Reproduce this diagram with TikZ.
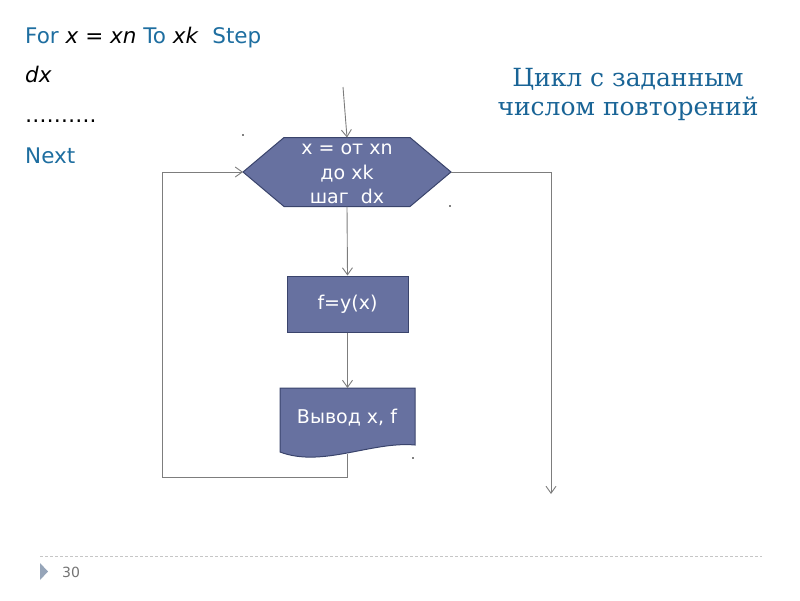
\documentclass[tikz,border=0pt]{standalone}
\usepackage{fontspec}
\setmainfont{DejaVu Sans}
\newfontfamily\titlefont{DejaVu Serif}
\usetikzlibrary{arrows.meta}
\definecolor{blk}{RGB}{103,113,160}
\definecolor{blkedge}{RGB}{58,68,108}
\definecolor{kwblue}{RGB}{30,110,160}
\definecolor{ttlblue}{RGB}{25,100,150}
\definecolor{lineg}{RGB}{125,125,125}
\definecolor{footg}{RGB}{150,165,185}
\begin{document}
\begin{tikzpicture}[x=1pt,y=-1pt,
  conn/.style={draw=lineg,line width=0.9pt},
  arr/.style={conn,-{Straight Barb[length=7pt,width=10pt]}},
  shapebox/.style={fill=blk,draw=blkedge,line width=1pt},
  frame/.style={inner sep=0pt,outer sep=0pt},
  intext/.style={inner sep=0pt,text=white,font=\fontsize{19}{24.5}\selectfont,align=center},
  lefttext/.style={anchor=base west,inner sep=0pt,font=\fontsize{21.5}{24}\selectfont},
  ttl/.style={anchor=base,inner sep=0pt,text=ttlblue,font=\titlefont\fontsize{25}{30}\selectfont},
  speck/.style={fill=black}]
\useasboundingbox (0,0) rectangle (800,600);

% left code text
\node[lefttext] (l1) at (25,43) {\textcolor{kwblue}{For} \textit{x} = \textit{xn} \textcolor{kwblue}{To} \textit{xk}\ \ \textcolor{kwblue}{Step}};
\node[lefttext] (l2) at (25,82) {\textit{dx}};
\node[lefttext] (l3) at (25,122) {……….};
\node[lefttext,text=kwblue] (l4) at (25,163) {Next};

% title
\node[ttl] (t1) at (628,86) {Цикл с заданным};
\node[ttl] (t2) at (628,115) {числом повторений};

% hexagon
\node[frame,minimum width=208pt,minimum height=69pt] (hex) at (347,172) {};
\path[shapebox] (hex.west) -- ([xshift=-63pt]hex.north) -- ([xshift=63pt]hex.north)
  -- (hex.east) -- ([xshift=63pt]hex.south) -- ([xshift=-63pt]hex.south) -- cycle;
\node[intext] (hextext) at (347,174) {x = от xn\\до xk\\шаг\ \ dx};

% process box
\node[shapebox,minimum width=121pt,minimum height=56pt,inner sep=0pt,text=white,
  font=\fontsize{19}{22}\selectfont] (proc) at (347.5,304) {f=y(x)};

% document shape
\node[frame,minimum width=135pt,minimum height=64pt] (doc) at (347.5,420) {};
\path[shapebox] (doc.north west) -- (doc.north east) -- ([yshift=7pt]doc.south east)
  .. controls (372,441) and (322,468) .. (doc.south west) -- cycle;
\node[intext] (doctext) at (347,418) {Вывод x, f};
\coordinate (docb) at (347,454);

% connectors
\coordinate (inc) at (343,87);
\coordinate (loopc) at (162,477);
\coordinate (exitend) at (551,494);
\draw[arr] (inc) -- (hex.north);
\draw[arr] (hex.south) -- (proc.north);
\draw[arr] (proc.south) -- (doc.north);
\draw[arr] (docb) |- (loopc) |- (hex.west);
\draw[arr] (hex.east) -| (exitend);

% specks
\fill[speck] (243,135) circle (0.9pt);
\fill[speck] (450,206) circle (0.9pt);
\fill[speck] (413,458) circle (0.9pt);

% footer
\draw[gray!45,line width=0.8pt,dash pattern=on 3pt off 2pt] (40,556) -- (762,556);
\fill[footg] (40,563) -- (48,571.5) -- (40,580) -- cycle;
\node[anchor=base west,inner sep=0pt,text=gray!90!black,font=\fontsize{14}{16}\selectfont] (pg) at (62,577) {30};
\end{tikzpicture}
\end{document}
